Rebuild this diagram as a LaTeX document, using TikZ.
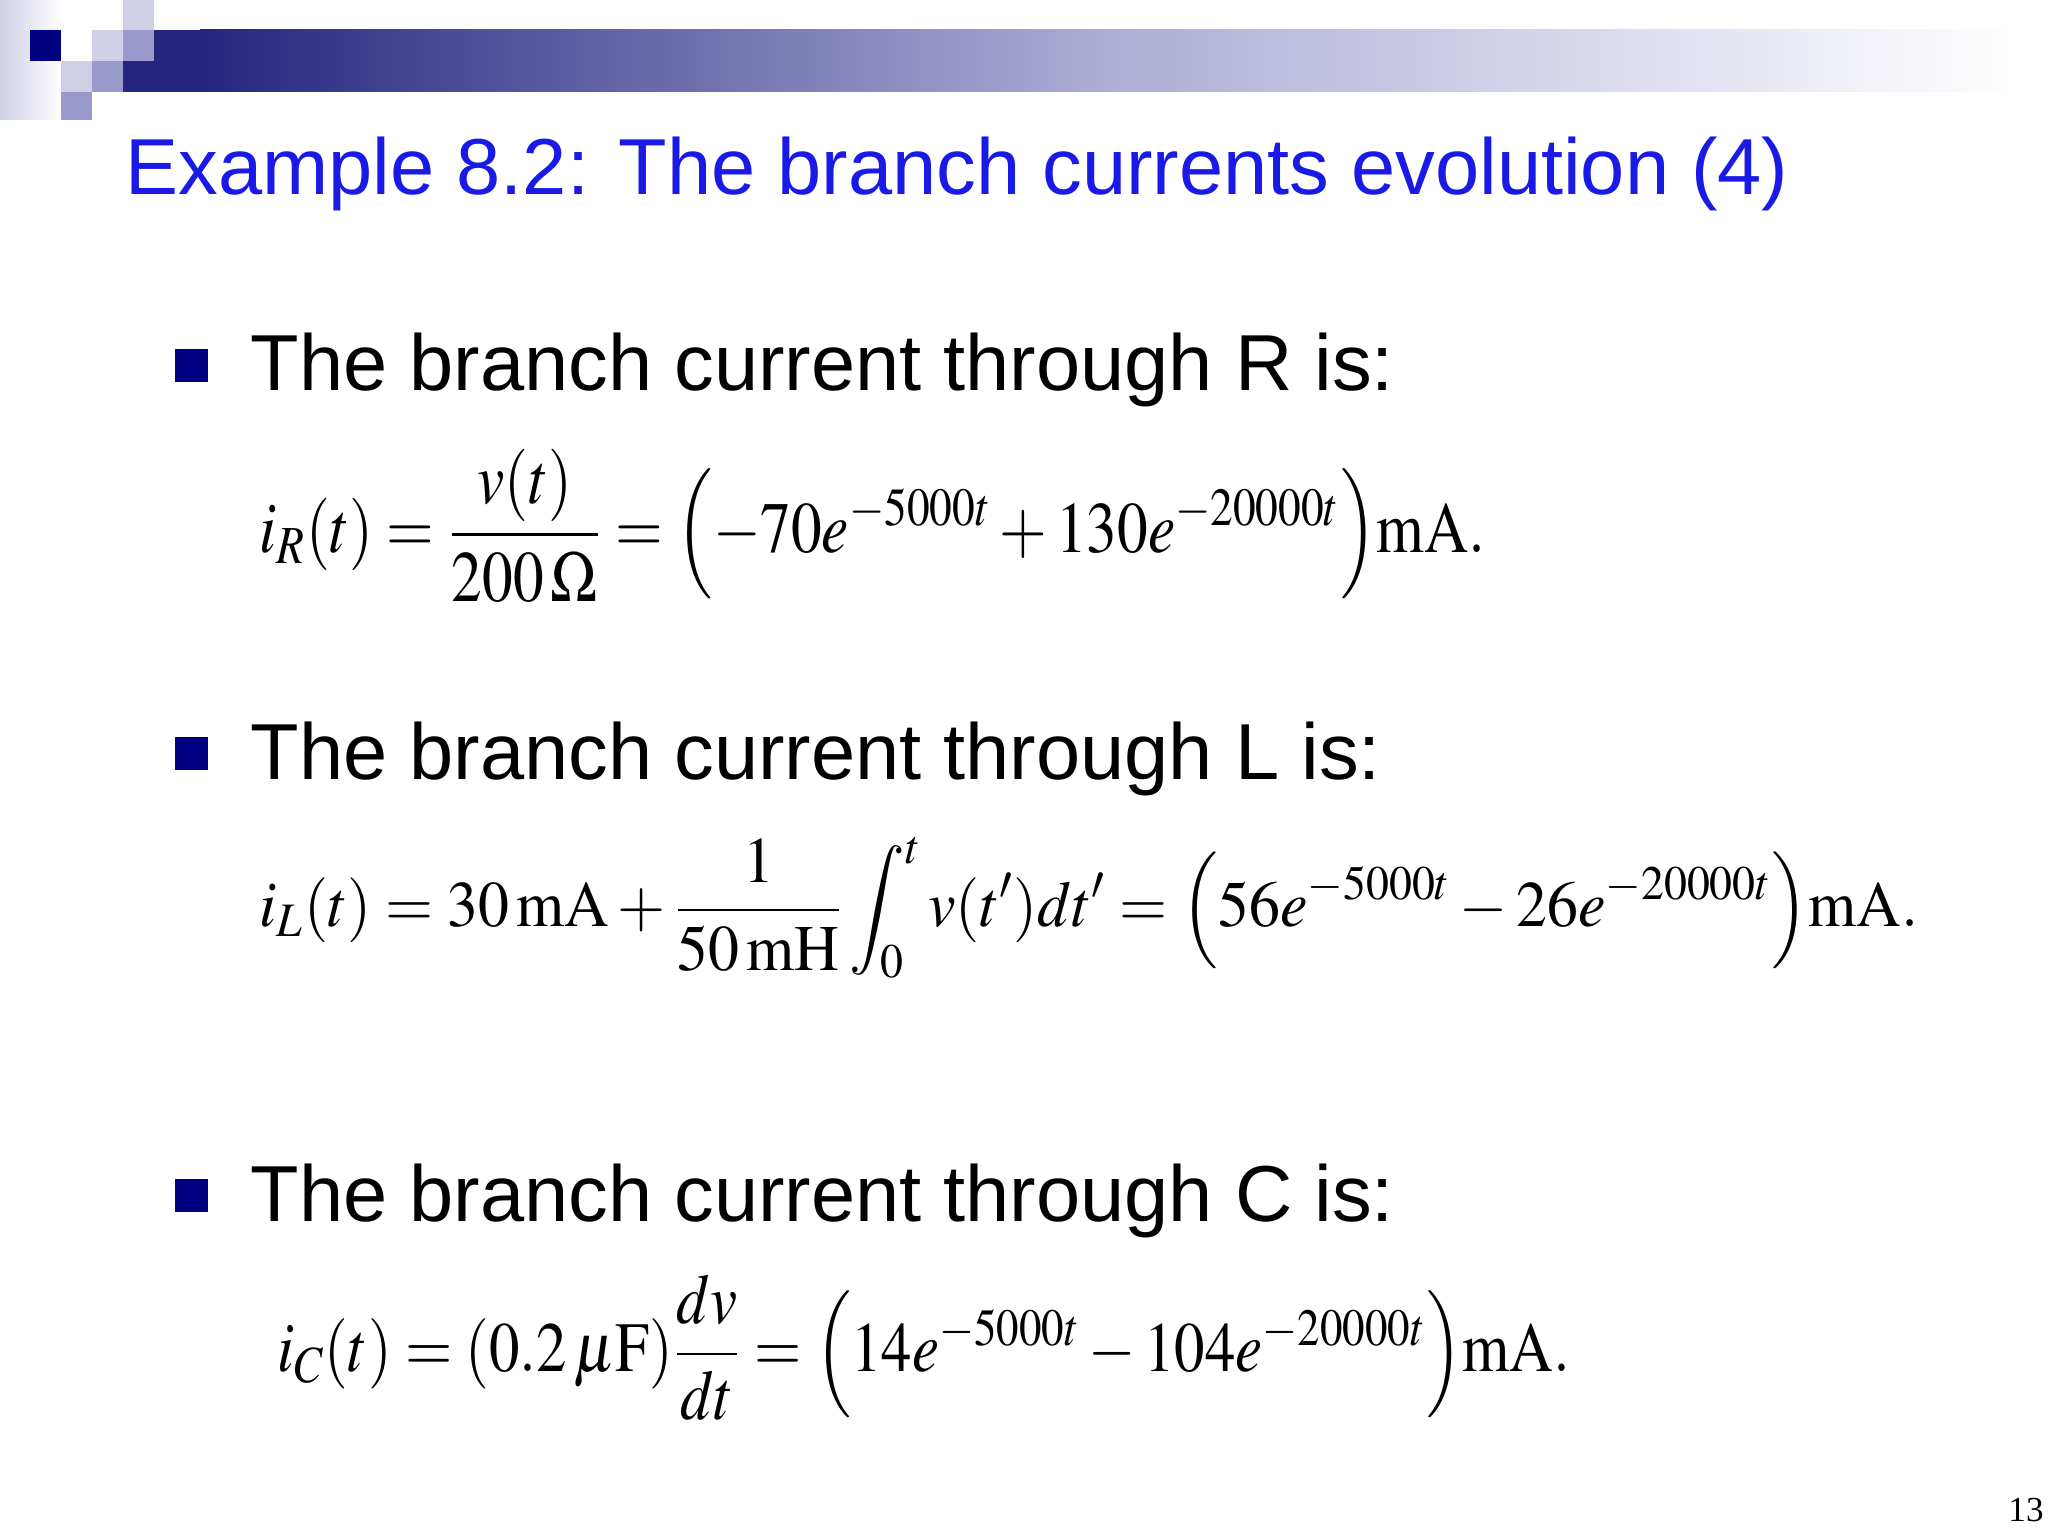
\documentclass[tikz,border=0pt]{standalone}
\usepackage{mathptmx}
\usepackage{fontspec}
\setmainfont{Liberation Sans}
\usepackage{amsmath}
\usepackage{graphicx}
\definecolor{navy}{HTML}{000080}
\definecolor{bar}{HTML}{25257F}
\definecolor{lav}{HTML}{CFD0E6}
\definecolor{med}{HTML}{9999CC}
\definecolor{titleblue}{HTML}{1A1AE6}
\tikzset{
  bulletsq/.style={fill=navy,draw=none,minimum size=0.33cm,inner sep=0pt},
  btext/.style={anchor=base west,inner sep=0pt,font=\fontsize{22.6}{27}\selectfont},
  eq/.style={anchor=west,inner sep=0pt,font=\fontsize{20}{24}\selectfont}
}
\begin{document}
\begin{tikzpicture}
\useasboundingbox (0,0) rectangle (20.48,15.36);
\fill[white] (0,0) rectangle (20.48,15.36);
\shade[left color=lav,right color=white] (0,14.16) rectangle (0.62,15.36);
\fill[bar] (1.23,14.44) rectangle (2.0,15.06);
\shade[left color=bar,right color=white,middle color=med!80!white] (2.0,14.44) rectangle (20.15,15.06);
\fill[navy] (0.30,14.75) rectangle (0.61,15.06);
\fill[lav] (0.92,14.75) rectangle (1.23,15.06);
\fill[lav] (1.23,15.06) rectangle (1.54,15.36);
\fill[lav] (0.61,14.44) rectangle (0.92,14.75);
\fill[med] (1.23,14.75) rectangle (1.54,15.06);
\fill[med] (0.92,14.44) rectangle (1.23,14.75);
\fill[med] (0.61,14.16) rectangle (0.92,14.44);
\node[anchor=base west,inner sep=0pt,text=titleblue,font=\fontsize{22.6}{27}\selectfont] (title) at (1.25,13.41) {Example 8.2: The branch currents evolution (4)};
\node[bulletsq] (b1) at (1.91,11.70) {};
\node[btext] (t1) at (2.50,11.45) {The branch current through R is:};
\node[eq] (e1) at (2.59,10.10) {\scalebox{1}[1.18]{\resizebox{12.26cm}{!}{$i_R(t)=\dfrac{v(t)}{200\,\Omega}=\Bigl(-70e^{-5000t}+130e^{-20000t}\Bigr)\mathrm{mA.}$}}};
\node[bulletsq] (b2) at (1.91,7.82) {};
\node[btext] (t2) at (2.50,7.56) {The branch current through L is:};
\node[eq] (e2) at (2.59,6.28) {\scalebox{1}[1.05]{\resizebox{16.59cm}{!}{$i_L(t)=30\,\mathrm{mA}+\dfrac{1}{50\,\mathrm{mH}}\displaystyle\int_0^t v(t')dt'=\Bigl(56e^{-5000t}-26e^{-20000t}\Bigr)\mathrm{mA.}$}}};
\node[bulletsq] (b3) at (1.91,3.40) {};
\node[btext] (t3) at (2.50,3.14) {The branch current through C is:};
\node[eq] (e3) at (2.77,1.88) {\scalebox{1}[1.16]{\resizebox{12.93cm}{!}{$i_C(t)=(0.2\,\mu\mathrm{F})\dfrac{dv}{dt}=\Bigl(14e^{-5000t}-104e^{-20000t}\Bigr)\mathrm{mA.}$}}};
\node[anchor=base,inner sep=0pt,font=\fontsize{10}{12}\selectfont] (pg) at (20.26,0.14) {\fontspec{Liberation Serif}13};
\end{tikzpicture}
\end{document}
